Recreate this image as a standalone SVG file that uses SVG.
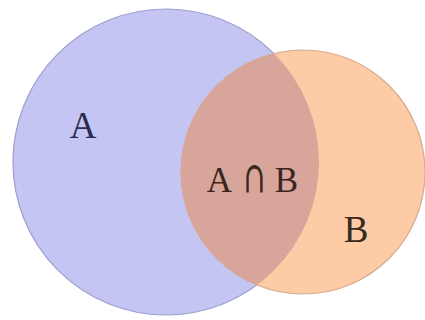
<svg xmlns="http://www.w3.org/2000/svg" width="425" height="320" viewBox="0 0 425 320">
<style>
.lbl{font-family:"Liberation Serif","DejaVu Serif",serif;}
</style>
<defs>
<clipPath id="clipA"><circle cx="166" cy="162" r="153"/></clipPath>
</defs>
<rect width="425" height="320" fill="#ffffff"/>
<g id="setA">
<circle cx="166" cy="162" r="153" fill="#c5c5f4" stroke="#9d9dcf" stroke-width="1.2"/>
</g>
<g id="setB">
<circle cx="303" cy="172" r="122" fill="#fdcba5" stroke="#d6ab8e" stroke-width="1.2"/>
</g>
<g id="intersection">
<circle cx="303" cy="172" r="122" fill="#d8a59b" clip-path="url(#clipA)"/>
</g>
<g id="labels" class="lbl">
<text x="83" y="138" font-size="37" fill="#2b2b4e" text-anchor="middle">A</text>
<text y="192" font-size="35" fill="#3a2620" text-anchor="middle"><tspan x="219.5">A</tspan><tspan x="286.5">B</tspan></text>
<text transform="translate(254.5 192) scale(1 1.5)" font-size="35" fill="#3a2620" stroke="#3a2620" stroke-width="0.6" text-anchor="middle">∩</text>
<text x="356" y="242" font-size="37" fill="#3a2a1c" text-anchor="middle">B</text>
</g>
</svg>
